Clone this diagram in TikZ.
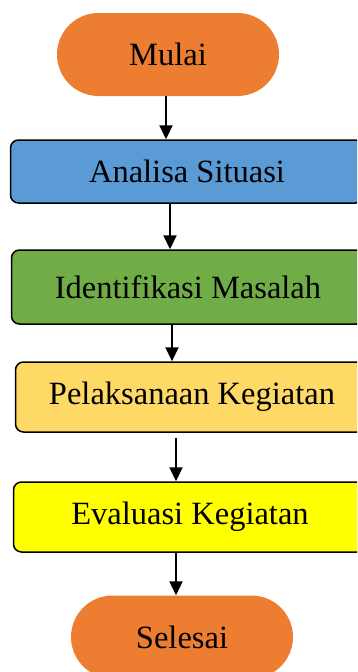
\documentclass[tikz,border=0pt]{standalone}
\usepackage{fontspec}
\setmainfont{Liberation Serif}
\usetikzlibrary{arrows.meta}

\definecolor{oranye}{HTML}{ED7D31}
\definecolor{biru}{HTML}{5B9BD5}
\definecolor{hijau}{HTML}{70AD47}
\definecolor{emas}{HTML}{FFD966}
\definecolor{kuning}{HTML}{FFFF00}

\tikzset{
	terminal/.style={fill=oranye, rounded corners=41.5pt, minimum width=222pt, minimum height=83pt},
	proses/.style={draw=black, line width=1.5pt, rounded corners=8pt, minimum width=353pt},
}

\begin{document}
\begin{tikzpicture}
				[
				x=1pt, y=-1pt, font=\fontsize{32.5}{38}\selectfont, >={Triangle[width=13pt,length=14pt]}
				%Voreinstellung: 1 Einheit = 1 Pixel
				]
				
				%Rahmen
				\useasboundingbox (0,0) rectangle (357,672);
				\clip (0,0) rectangle (357,672);
				
				%Knoten
				\node [terminal] (mulai) at (168,54.5) {Mulai};
				\node [proses, fill=biru, minimum height=63pt] (analisa) at (187,171.5) {Analisa Situasi};
				\node [proses, fill=hijau, minimum height=74pt] (identifikasi) at (188,287) {Identifikasi Masalah};
				\node [proses, fill=emas, minimum height=70pt] (pelaksanaan) at (192,397) {Pelaksanaan Kegiatan};
				\node [proses, fill=kuning, minimum height=70pt] (evaluasi) at (190,517) {Evaluasi Kegiatan};
				\node [terminal] (selesai) at (182,637) {Selesai};
				
				%Pfeile
				\draw [->, line width=2.2pt] ([xshift=-2pt]mulai.south) -- ([xshift=-2pt]mulai.south |- analisa.north);
				\draw [->, line width=2.2pt] ([xshift=-17pt]analisa.south) -- ([xshift=-17pt]analisa.south |- identifikasi.north);
				\draw [->, line width=2.2pt] ([xshift=-16pt]identifikasi.south) -- ([xshift=-16pt]identifikasi.south |- pelaksanaan.north);
				\draw [->, line width=2.2pt] ([xshift=-16pt,yshift=-5pt]pelaksanaan.south) -- ([xshift=-16pt]pelaksanaan.south |- evaluasi.north);
				\draw [->, line width=2.2pt] ([xshift=-14pt]evaluasi.south) -- ([xshift=-14pt]evaluasi.south |- selesai.north);
			\end{tikzpicture}
\end{document}
